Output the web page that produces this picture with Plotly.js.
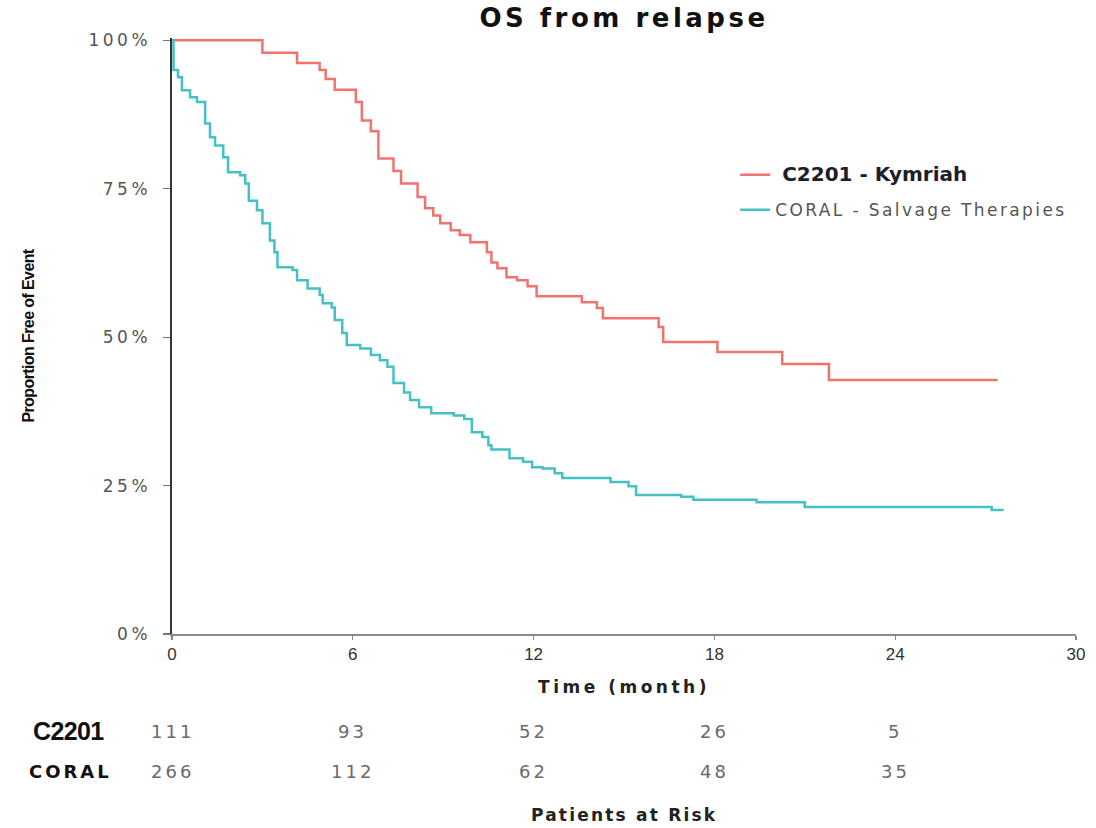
<!DOCTYPE html>
<html>
<head>
<meta charset="utf-8">
<script src="https://cdn.plot.ly/plotly-3.0.1.min.js"></script>
<style>
  html, body { margin: 0; padding: 0; background: #fff; }
  #chart { width: 1096px; height: 828px; }
</style>
</head>
<body>
<div id="chart"></div>
<script>
// ---- Data ----
const c2201Time = [0, 3.0, 4.15, 4.9, 5.1, 5.4, 6.1, 6.3, 6.6, 6.85, 7.35, 7.6, 8.15, 8.4, 8.67, 8.9, 9.25, 9.55, 9.9, 10.45, 10.6, 10.8, 11.1, 11.45, 11.8, 12.1, 13.6, 14.1, 14.3, 16.15, 16.3, 18.1, 20.25, 21.8, 27.4];
const c2201Surv = [100, 97.9, 96.2, 95.0, 93.5, 91.7, 89.6, 86.5, 84.7, 80.1, 78.0, 75.9, 73.6, 71.7, 70.5, 69.2, 68.0, 67.2, 66.0, 64.3, 62.6, 61.6, 60.1, 59.6, 58.6, 56.9, 55.9, 54.9, 53.2, 51.7, 49.2, 47.5, 45.5, 42.8, 42.8];

const coralTime = [0, 0.05, 0.2, 0.33, 0.6, 0.83, 1.1, 1.26, 1.43, 1.7, 1.86, 2.26, 2.43, 2.55, 2.82, 3.0, 3.25, 3.4, 3.5, 4.0, 4.15, 4.5, 4.9, 5.0, 5.3, 5.4, 5.65, 5.8, 6.25, 6.6, 6.9, 7.15, 7.35, 7.7, 7.9, 8.2, 8.6, 9.35, 9.7, 9.95, 10.3, 10.5, 10.6, 11.2, 11.65, 11.95, 12.3, 12.7, 12.95, 14.55, 15.15, 15.4, 16.9, 17.3, 19.4, 21.0, 27.2, 27.6];
const coralSurv = [100, 95.0, 93.8, 91.6, 90.4, 89.6, 86.0, 83.7, 82.3, 80.3, 77.8, 77.3, 75.9, 73.0, 71.4, 69.2, 66.3, 64.3, 61.8, 61.3, 59.6, 58.2, 57.1, 55.7, 55.0, 52.9, 50.7, 48.7, 48.1, 47.0, 46.1, 45.0, 42.3, 40.7, 39.4, 38.2, 37.2, 36.8, 36.2, 34.0, 33.2, 31.8, 31.1, 29.6, 29.0, 28.1, 27.9, 27.1, 26.3, 25.6, 24.9, 23.4, 23.1, 22.6, 22.2, 21.4, 20.9, 20.9];

const seriesNames = ['C2201 - Kymriah', 'CORAL - Salvage Therapies'];
const riskRowLabels = ['C2201', 'CORAL'];
const riskTimes = [0, 6, 12, 18, 24];
const riskC2201 = [111, 93, 52, 26, 5];
const riskCoral = [266, 112, 62, 48, 35];

const xTickVals = [0, 6, 12, 18, 24, 30];
const yTickVals = [0, 25, 50, 75, 100];
const yTickText = ['0%', '25%', '50%', '75%', '100%'];

const titleText = 'OS from relapse';
const xTitleText = 'Time (month)';
const yTitleText = 'Proportion Free of Event';
const riskTitleText = 'Patients at Risk';

// ---- Styling ----
const RED = '#EF7470';
const CYAN = '#45C1C3';
const WIDE = 'DejaVu Sans, Verdana, sans-serif';
const ARIAL = 'Liberation Sans, Arial, sans-serif';
const ls = (t, px) => '<span style="letter-spacing:' + px + 'px">' + t + '</span>';

const traces = [
  {
    x: c2201Time, y: c2201Surv, type: 'scatter', mode: 'lines',
    line: { shape: 'hv', color: RED, width: 2.5 },
    name: '<span style="font-weight:bold;font-size:20px;color:#1d1d2b"> ' + seriesNames[0] + '</span>',
    legendgroup: 'a'
  },
  {
    x: coralTime, y: coralSurv, type: 'scatter', mode: 'lines',
    line: { shape: 'hv', color: CYAN, width: 2.5 },
    name: '<span style="letter-spacing:2.4px;color:#555">' + seriesNames[1] + '</span>',
    legendgroup: 'b'
  }
];

const annotations = [];
const rowY = [-0.1628, -0.2299];
annotations.push({
  xref: 'paper', yref: 'paper', x: -0.114, y: rowY[0], xanchor: 'center', yanchor: 'middle',
  text: ls('<b>' + riskRowLabels[0] + '</b>', -0.6), showarrow: false,
  font: { family: ARIAL, size: 25, color: '#111' }
});
annotations.push({
  xref: 'paper', yref: 'paper', x: -0.1128, y: rowY[1], xanchor: 'center', yanchor: 'middle',
  text: ls('<b>' + riskRowLabels[1] + '</b>', 3), showarrow: false,
  font: { family: WIDE, size: 18, color: '#111' }
});
[riskC2201, riskCoral].forEach((row, r) => {
  row.forEach((v, i) => {
    annotations.push({
      xref: 'x', yref: 'paper', x: riskTimes[i], y: rowY[r], xanchor: 'center', yanchor: 'middle',
      text: ls(String(v), 3), showarrow: false,
      font: { family: WIDE, size: 18, color: '#6a6a6a' }
    });
  });
});
annotations.push({
  xref: 'paper', yref: 'paper', x: 0.5, y: -0.3037, xanchor: 'center', yanchor: 'middle',
  text: ls('<b>' + riskTitleText + '</b>', 2.2), showarrow: false,
  font: { family: WIDE, size: 17, color: '#222' }
});

const layout = {
  width: 1096, height: 828,
  margin: { l: 172, r: 20, t: 38, b: 194 },
  paper_bgcolor: '#fff', plot_bgcolor: '#fff',
  title: {
    text: ls('<b>' + titleText + '</b>', 3.5),
    font: { family: WIDE, size: 26, color: '#111' },
    xref: 'paper', x: 0.5, xanchor: 'center',
    yref: 'container', y: 1 - 18 / 828, yanchor: 'middle'
  },
  xaxis: {
    range: [0, 30], tickvals: xTickVals, ticks: 'outside', ticklen: 4, tickwidth: 1.2, tickcolor: '#888',
    showline: true, linecolor: '#8a8a8a', linewidth: 1.6, showgrid: false, zeroline: false,
    tickfont: { family: ARIAL, size: 17, color: '#333' },
    layer: 'below traces',
    title: { text: ls('<b>' + xTitleText + '</b>', 3.5), font: { family: WIDE, size: 17, color: '#222' }, standoff: 18 }
  },
  yaxis: {
    range: [0, 100.4], tickvals: yTickVals, ticktext: yTickText.map(t => ls(t, 3.5)),
    ticks: 'outside', ticklen: 7, tickwidth: 1.2, tickcolor: '#777',
    ticklabelstandoff: 8,
    showline: true, linecolor: '#333', linewidth: 2.5, showgrid: false, zeroline: false,
    tickfont: { family: WIDE, size: 17, color: '#555' },
    layer: 'below traces',
    title: { text: ls('<b>' + yTitleText + '</b>', -0.6), font: { family: ARIAL, size: 16, color: '#111' }, standoff: 50 }
  },
  showlegend: true,
  legend: {
    x: 0.623, y: 0.80, xanchor: 'left', yanchor: 'top',
    bgcolor: 'rgba(0,0,0,0)', borderwidth: 0,
    font: { family: WIDE, size: 17, color: '#555' },
    tracegroupgap: 10, itemwidth: 30
  },
  annotations: annotations
};

Plotly.newPlot('chart', traces, layout, { displayModeBar: false, staticPlot: true });
</script>
</body>
</html>
